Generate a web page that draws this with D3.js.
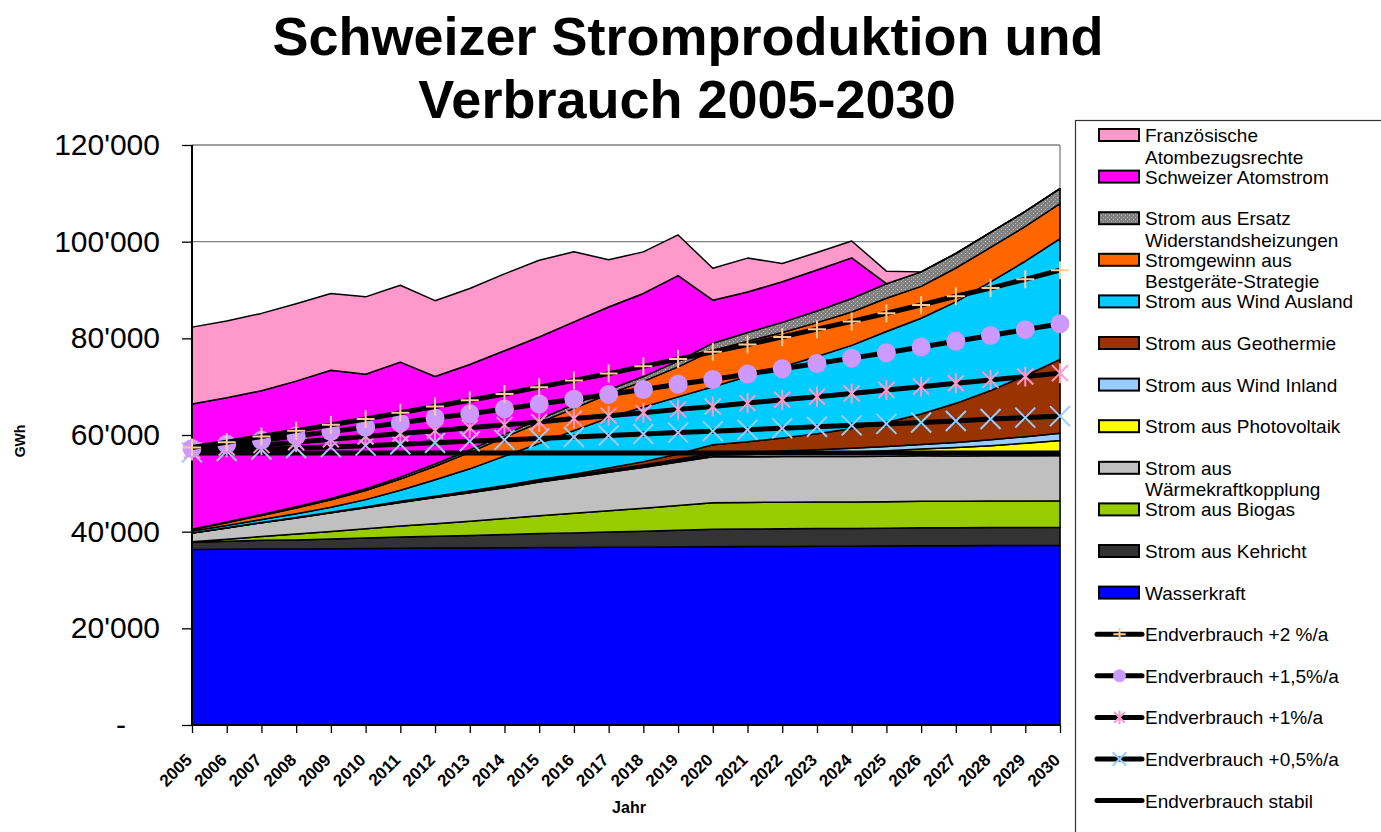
<!DOCTYPE html>
<html>
<head>
<meta charset="utf-8">
<script src="https://cdn.jsdelivr.net/npm/d3@7"></script>
<style>
  body { margin: 0; background: #fff; }
  svg { font-family: "Liberation Sans", Arial, sans-serif; }
</style>
</head>
<body>
<svg width="1381" height="832"></svg>
<script>
var years = [2005, 2006, 2007, 2008, 2009, 2010, 2011, 2012, 2013, 2014, 2015, 2016, 2017,
  2018, 2019, 2020, 2021, 2022, 2023, 2024, 2025, 2026, 2027, 2028, 2029, 2030];

// production (GWh), stacked bottom -> top
var wasser = [36300, 36350, 36400, 36400, 36450, 36500, 36550, 36600, 36600, 36650, 36700, 36750, 36800,
  36800, 36850, 36900, 36950, 36950, 37000, 37000, 37050, 37100, 37100, 37150, 37150, 37200];
var kehricht = [1500, 1650, 1800, 1900, 2050, 2200, 2350, 2450, 2600, 2750, 2900, 3000, 3150,
  3300, 3450, 3600, 3600, 3650, 3650, 3650, 3650, 3700, 3700, 3700, 3700, 3700];
var biogas = [100, 450, 800, 1200, 1550, 1900, 2250, 2600, 2950, 3300, 3700, 4050, 4400,
  4750, 5100, 5500, 5500, 5500, 5500, 5500, 5500, 5500, 5500, 5500, 5500, 5500];
var wkk = [1800, 2300, 2850, 3350, 3850, 4350, 4900, 5400, 5900, 6400, 6950, 7450, 7950,
  8450, 9000, 9500, 9450, 9450, 9400, 9400, 9400, 9400, 9350, 9350, 9350, 9350];
var photovoltaik = [0, 10, 10, 20, 20, 30, 40, 50, 60, 80, 100, 120, 160,
  200, 270, 350, 450, 600, 750, 950, 1150, 1400, 1750, 2100, 2600, 3100];
var windInland = [20, 30, 40, 60, 80, 100, 120, 140, 160, 180, 200, 230, 260,
  290, 320, 350, 450, 550, 650, 750, 850, 950, 1050, 1200, 1350, 1500];
var geothermie = [0, 0, 10, 20, 30, 50, 70, 100, 130, 170, 220, 300, 450,
  700, 1100, 1800, 2200, 2700, 3300, 4100, 5000, 6300, 8100, 10200, 12600, 15300];
var windAusland = [400, 500, 600, 750, 1000, 1500, 2300, 3400, 4600, 6100, 7500, 9000, 10400,
  11300, 11800, 12000, 13500, 14700, 16000, 17200, 18800, 19800, 21000, 22500, 23700, 25000];
var bestgeraete = [300, 550, 850, 1200, 1550, 1900, 2300, 2800, 3400, 3900, 4300, 4600, 4900,
  5300, 6200, 7500, 7300, 7100, 7000, 6900, 6900, 6600, 7000, 7100, 7200, 7200];
var ersatz = [100, 150, 200, 250, 300, 350, 400, 450, 500, 600, 700, 800, 900,
  1000, 1200, 1500, 1800, 2100, 2400, 2800, 3000, 3000, 3000, 3100, 3100, 3100];
var atomCH = [25900, 25700, 25600, 26000, 26500, 23700, 23800, 18100, 17700, 17300, 17000, 17100, 17100,
  17200, 17700, 8900, 8400, 8400, 8500, 8400, 0, 0, 0, 0, 0, 0];
var atomF = [15900, 15900, 16000, 16000, 15900, 16000, 15900, 15700, 15700, 15900, 15900, 14500, 9800,
  8600, 8400, 6600, 7000, 3800, 3600, 3500, 2600, 0, 0, 0, 0, 0];

// consumption scenarios (GWh)
var verbrauch2 = [57400, 58500, 59700, 60900, 62100, 63300, 64600, 65900, 67200, 68500, 69900, 71300, 72700,
  74200, 75700, 77200, 78700, 80300, 81900, 83500, 85200, 86900, 88700, 90400, 92200, 94100];
var verbrauch15 = [57200, 58100, 58900, 59800, 60700, 61600, 62500, 63500, 64400, 65400, 66400, 67400, 68400,
  69400, 70500, 71500, 72600, 73700, 74800, 75900, 77000, 78200, 79400, 80600, 81800, 83000];
var verbrauch1 = [56800, 57400, 57900, 58500, 59100, 59700, 60300, 60900, 61500, 62100, 62700, 63400, 64000,
  64600, 65300, 65900, 66600, 67300, 67900, 68600, 69300, 70000, 70700, 71400, 72100, 72800];
var verbrauch05 = [56400, 56700, 57000, 57300, 57500, 57800, 58100, 58400, 58700, 59000, 59300, 59600, 59900,
  60200, 60500, 60800, 61100, 61400, 61700, 62000, 62300, 62600, 62900, 63300, 63600, 63900];
var verbrauchStabil = [56300, 56300, 56300, 56300, 56300, 56300, 56300, 56300, 56300, 56300, 56300, 56300, 56300,
  56300, 56300, 56300, 56300, 56300, 56300, 56300, 56300, 56300, 56300, 56300, 56300, 56300];

var yTicks = [0, 20000, 40000, 60000, 80000, 100000, 120000];

var keys = ["wasser", "kehricht", "biogas", "wkk", "pv", "windIn", "geo", "windAus", "best", "ersatz", "atomCH", "atomF"];
var values = [wasser, kehricht, biogas, wkk, photovoltaik, windInland, geothermie, windAusland, bestgeraete, ersatz, atomCH, atomF];
var fills = {
  wasser: "#0000ff", kehricht: "#333333", biogas: "#99cc00", wkk: "#c0c0c0",
  pv: "#ffff00", windIn: "#99ccff", geo: "#993300", windAus: "#00ccff",
  best: "#ff6600", ersatz: "url(#dots)", atomCH: "#ff00ff", atomF: "#ff99cc"
};

var rows = years.map(function (yr, i) {
  var r = { year: yr };
  keys.forEach(function (k, j) { r[k] = values[j][i]; });
  return r;
});

var svg = d3.select("svg");

var defs = svg.append("defs");
var pat = defs.append("pattern").attr("id", "dots")
  .attr("width", 4).attr("height", 4).attr("patternUnits", "userSpaceOnUse");
pat.append("rect").attr("width", 4).attr("height", 4).attr("fill", "#808080");
pat.append("rect").attr("x", 1).attr("y", 1).attr("width", 1).attr("height", 1).attr("fill", "#c8c8c8");
pat.append("rect").attr("x", 3).attr("y", 3).attr("width", 1).attr("height", 1).attr("fill", "#b0b0b0");

var x = d3.scalePoint().domain(years).range([192, 1060]);
var y = d3.scaleLinear().domain([0, 120000]).range([725, 145]);

// title
svg.append("text").attr("x", 688).attr("y", 55).attr("text-anchor", "middle")
  .style("font-size", "54px").style("font-weight", "bold").text("Schweizer Stromproduktion und");
svg.append("text").attr("x", 687).attr("y", 118).attr("text-anchor", "middle")
  .style("font-size", "54px").style("font-weight", "bold").text("Verbrauch 2005-2030");

// gridlines
svg.append("g").selectAll("line")
  .data(yTicks.filter(function (d) { return d > 0; }))
  .enter().append("line")
  .attr("x1", 192).attr("x2", 1060)
  .attr("y1", function (d) { return y(d); }).attr("y2", function (d) { return y(d); })
  .attr("stroke", "#808080").attr("stroke-width", 1.3);
svg.append("line").attr("x1", 1060).attr("x2", 1060).attr("y1", 145).attr("y2", 725)
  .attr("stroke", "#808080").attr("stroke-width", 1.3);

// stacked areas
var stacked = d3.stack().keys(keys)(rows);
var area = d3.area()
  .x(function (d) { return x(d.data.year); })
  .y0(function (d) { return y(d[0]); })
  .y1(function (d) { return y(d[1]); });

svg.append("g").selectAll("path")
  .data(stacked)
  .enter().append("path")
  .attr("d", area)
  .attr("fill", function (d) { return fills[d.key]; })
  .attr("stroke", "#000")
  .attr("stroke-width", 1.5)
  .attr("stroke-linejoin", "round");

// axes
var yAxis = d3.axisLeft(y).tickValues(yTicks).tickSize(10).tickPadding(22)
  .tickFormat(function (d) { return d === 0 ? "-" : d3.format(",")(d).replace(/,/g, "'"); });
var gy = svg.append("g").attr("transform", "translate(192,0)").call(yAxis);
gy.select(".domain").remove();
gy.selectAll(".tick line").attr("stroke", "#000").attr("stroke-width", 1.3);
gy.selectAll(".tick text").style("font-size", "30px").attr("fill", "#000");
gy.selectAll(".tick text").filter(function (d) { return d === 0; }).attr("x", -66);

var xAxis = d3.axisBottom(x).tickSize(8).tickFormat(function (d) { return d; });
var gx = svg.append("g").attr("transform", "translate(0,725)").call(xAxis);
gx.select(".domain").remove();
gx.selectAll(".tick line").attr("stroke", "#000").attr("stroke-width", 1.3);
gx.selectAll(".tick text")
  .attr("text-anchor", "end")
  .attr("x", -25).attr("y", 20).attr("dy", "0.35em")
  .attr("transform", "rotate(-45)")
  .style("font-size", "17px").style("font-weight", "bold").attr("fill", "#000");

svg.append("line").attr("x1", 192).attr("x2", 192).attr("y1", 145).attr("y2", 726)
  .attr("stroke", "#000").attr("stroke-width", 2);
svg.append("line").attr("x1", 191).attr("x2", 1060).attr("y1", 725).attr("y2", 725)
  .attr("stroke", "#000").attr("stroke-width", 2);

svg.append("text").attr("transform", "translate(25,441) rotate(-90)").attr("text-anchor", "middle")
  .style("font-size", "14px").style("font-weight", "bold").text("GWh");
svg.append("text").attr("x", 629).attr("y", 813).attr("text-anchor", "middle")
  .style("font-size", "16px").style("font-weight", "bold").text("Jahr");

// markers
function drawMarker(g, type, s) {
  if (type === "plus") {
    g.append("path").attr("d", "M" + (-9 * s) + ",0H" + (9 * s) + "M0," + (-9 * s) + "V" + (9 * s))
      .attr("stroke", "#ffcc99").attr("stroke-width", 2).attr("fill", "none");
  } else if (type === "circle") {
    g.append("circle").attr("r", 9.5 * s).attr("fill", "#cc99ff");
  } else if (type === "star") {
    g.append("path").attr("d", "M0," + (-10 * s) + "V" + (10 * s) +
      "M" + (-8 * s) + "," + (-8 * s) + "L" + (8 * s) + "," + (8 * s) +
      "M" + (-8 * s) + "," + (8 * s) + "L" + (8 * s) + "," + (-8 * s))
      .attr("stroke", "#ff99cc").attr("stroke-width", 2).attr("fill", "none");
  } else if (type === "x") {
    g.append("path").attr("d", "M" + (-10 * s) + "," + (-10 * s) + "L" + (10 * s) + "," + (10 * s) +
      "M" + (-10 * s) + "," + (10 * s) + "L" + (10 * s) + "," + (-10 * s))
      .attr("stroke", "#99ccff").attr("stroke-width", 2).attr("fill", "none");
  }
}

var lines = [
  { vals: verbrauchStabil, marker: null },
  { vals: verbrauch05, marker: "x" },
  { vals: verbrauch1, marker: "star" },
  { vals: verbrauch15, marker: "circle" },
  { vals: verbrauch2, marker: "plus" }
];
var line = d3.line()
  .x(function (d, i) { return x(years[i]); })
  .y(function (d) { return y(d); });

lines.forEach(function (l) {
  var g = svg.append("g");
  g.append("path").attr("d", line(l.vals)).attr("fill", "none")
    .attr("stroke", "#000").attr("stroke-width", 5);
  if (l.marker) {
    l.vals.forEach(function (v, i) {
      var m = g.append("g").attr("transform", "translate(" + x(years[i]) + "," + y(v) + ")");
      drawMarker(m, l.marker, 1);
    });
  }
});

// legend
var legendItems = [
  { text: ["Französische", "Atombezugsrechte"], key: "atomF" },
  { text: ["Schweizer Atomstrom"], key: "atomCH" },
  { text: ["Strom aus Ersatz", "Widerstandsheizungen"], key: "ersatz" },
  { text: ["Stromgewinn aus", "Bestgeräte-Strategie"], key: "best" },
  { text: ["Strom aus Wind Ausland"], key: "windAus" },
  { text: ["Strom aus Geothermie"], key: "geo" },
  { text: ["Strom aus Wind Inland"], key: "windIn" },
  { text: ["Strom aus Photovoltaik"], key: "pv" },
  { text: ["Strom aus", "Wärmekraftkopplung"], key: "wkk" },
  { text: ["Strom aus Biogas"], key: "biogas" },
  { text: ["Strom aus Kehricht"], key: "kehricht" },
  { text: ["Wasserkraft"], key: "wasser" },
  { text: ["Endverbrauch +2 %/a"], marker: "plus" },
  { text: ["Endverbrauch +1,5%/a"], marker: "circle" },
  { text: ["Endverbrauch +1%/a"], marker: "star" },
  { text: ["Endverbrauch +0,5%/a"], marker: "x" },
  { text: ["Endverbrauch stabil"], marker: "none" }
];

svg.append("rect").attr("x", 1075.5).attr("y", 120.5).attr("width", 320).attr("height", 730)
  .attr("fill", "#fff").attr("stroke", "#333").attr("stroke-width", 1.2);

var lg = svg.append("g").selectAll("g")
  .data(legendItems).enter().append("g")
  .attr("transform", function (d, i) { return "translate(0," + (135 + i * 41.6) + ")"; });

lg.each(function (d) {
  var g = d3.select(this);
  if (d.key) {
    g.append("rect").attr("x", 1099).attr("y", -6).attr("width", 40).attr("height", 12)
      .attr("fill", fills[d.key]).attr("stroke", "#000").attr("stroke-width", 2);
  } else {
    g.append("line").attr("x1", 1097).attr("x2", 1142).attr("y1", 0).attr("y2", 0)
      .attr("stroke", "#000").attr("stroke-width", 5).attr("stroke-linecap", "round");
    var m = g.append("g").attr("transform", "translate(1119.5,0)");
    drawMarker(m, d.marker, 0.68);
  }
  d.text.forEach(function (t, j) {
    g.append("text").attr("x", 1145).attr("y", 7 + j * 21.7)
      .style("font-size", "19px").attr("fill", "#000").text(t);
  });
});
</script>
</body>
</html>
